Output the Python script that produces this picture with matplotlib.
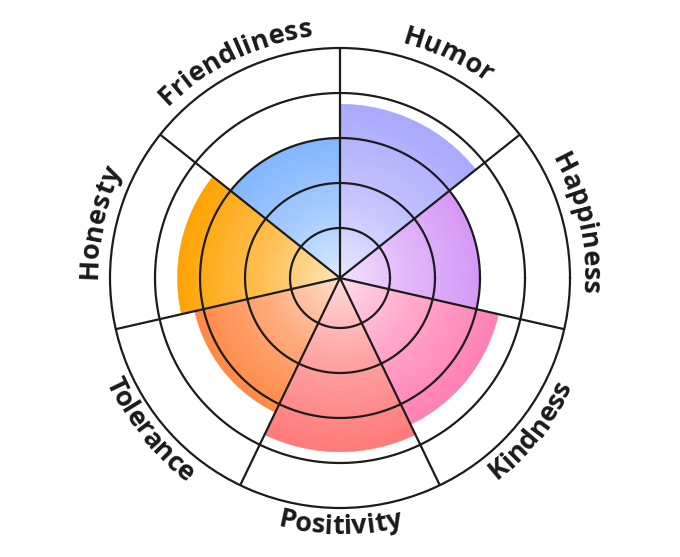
import numpy as np
import matplotlib
matplotlib.use('Agg')
import matplotlib.pyplot as plt
from matplotlib.colors import to_rgb
from matplotlib.font_manager import FontProperties

categories = ['Humor', 'Happiness', 'Kindness', 'Positivity', 'Tolerance', 'Honesty', 'Friendliness']
values = [75, 60, 70, 75, 64, 70, 60]
colors = ['#a8a8ff', '#d597f7', '#ff7fb3', '#ff7878', '#ff8743', '#ffa200', '#7fb5ff']
ring_values = [20, 40, 60, 80, 100]

RMIN = -2.22
LINE = '#1c1c1c'
LW = 1.6

fig = plt.figure(figsize=(6.8, 5.57), dpi=100)
ax = fig.add_axes([110 / 680, 49 / 557, 460 / 680, 460 / 557], projection='polar')
ax.set_ylim(RMIN, ring_values[-1])

n = len(categories)
step = 2 * np.pi / n
mids = np.pi / 2 - step / 2 - step * np.arange(n)


def mix(c, w):
    c = np.array(to_rgb(c))
    return c * (1 - w) + w


def grad(c, t):
    # light centre -> full colour at the bar's end
    a = np.array([mix(c, 0.72), mix(c, 0.3), np.array(to_rgb(c))])
    if t < 0.5:
        return a[0] + (a[1] - a[0]) * (t / 0.5)
    return a[1] + (a[2] - a[1]) * ((t - 0.5) / 0.5)


NB = 70
for mid, v, c in zip(mids, values, colors):
    edges = np.linspace(RMIN, v, NB + 1)
    for k in range(NB):
        t = (k + 0.5) / NB
        col = np.clip(grad(c, t), 0, 1)
        ax.bar(mid, edges[k + 1] - edges[k], width=step, bottom=edges[k],
               color=col, edgecolor=col, linewidth=0.4, zorder=1)

full = np.linspace(0, 2 * np.pi, 600)
for rv in ring_values[:-1]:
    ax.plot(full, np.full_like(full, rv), color=LINE, lw=LW, zorder=3)
for b in mids + step / 2:
    ax.plot([b, b], [RMIN, ring_values[-1]], color=LINE, lw=LW, zorder=3,
            solid_capstyle='butt')

ax.spines['polar'].set_color(LINE)
ax.spines['polar'].set_linewidth(LW)
ax.grid(False)
ax.set_xticks([])
ax.set_yticks([])

# curved labels
renderer = fig.canvas.get_renderer()
fp = FontProperties(family='Open Sans', weight='bold', size=19.5)
scale = 230 / (ring_values[-1] - RMIN)


def tw(s):
    if not s:
        return 0.0
    w, h, d = renderer.get_text_width_height_descent(s, fp, ismath=False)
    return w


for mid, lab in zip(mids, categories):
    upper = np.sin(mid) >= 0
    rpx = 243 if upper else 256
    rdat = rpx / scale + RMIN
    W = tw(lab)
    for i, ch in enumerate(lab):
        sc = (tw(lab[:i]) + tw(lab[:i + 1])) / 2
        if upper:
            th = mid + W / (2 * rpx) - sc / rpx
            rot = np.degrees(th) - 90
        else:
            th = mid - W / (2 * rpx) + sc / rpx
            rot = np.degrees(th) + 90
        ax.text(th, rdat, ch, fontproperties=fp, rotation=rot, rotation_mode='anchor',
                ha='center', va='baseline', color='#1a1a1a', clip_on=False, zorder=5)

fig.savefig('out.png', dpi=100)
